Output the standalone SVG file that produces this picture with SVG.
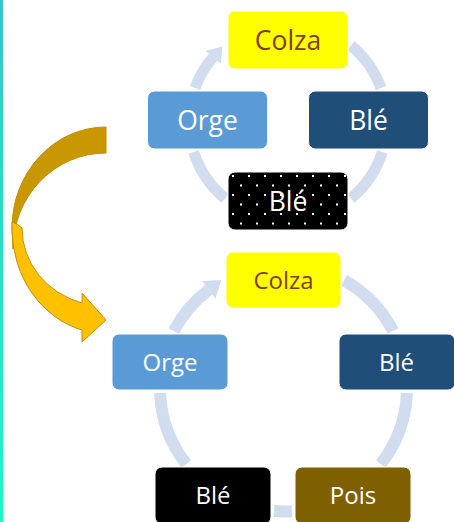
<svg xmlns="http://www.w3.org/2000/svg" width="454" height="522" viewBox="0 0 454 522">
  <defs>
    <linearGradient id="edge" x1="0" y1="0" x2="0" y2="1">
      <stop offset="0" stop-color="#33C6CC"/>
      <stop offset="1" stop-color="#1EF6C6"/>
    </linearGradient>
    <pattern id="dots" patternUnits="userSpaceOnUse" x="228" y="172" width="16" height="19">
      <rect width="16" height="19" fill="#000"/>
      <rect x="4" y="3" width="2" height="2" fill="#fff"/>
      <rect x="12" y="12.5" width="2" height="2" fill="#fff"/>
    </pattern>
    <style>
      .arc { fill: none; stroke: #D1DCEF; }
      .t1 { stroke-width: 11; }
      .t2 { stroke-width: 12; }
      .head { fill: #D1DCEF; }
      .box { stroke: #fff; stroke-width: 1; }
      .lbl { font-family: "Open Sans", "Noto Sans", sans-serif; text-anchor: middle; fill: #fff; }
      .big { font-size: 26.5px; }
      .small { font-size: 24px; }
      .brown { fill: #843C0C; }
    </style>
  </defs>
  <rect x="0" y="0" width="454" height="522" fill="#fff"/>
  <rect x="0" y="0" width="3" height="522" fill="url(#edge)"/>

  <g id="curved-arrow" stroke="#BF9000" stroke-width="1">
    <path d="M106,127 A94,101 0 0 0 12,228 L13,249 A93,96 0 0 1 106,153 Z" fill="#C99700"/>
    <path d="M12,230 A94,105.5 0 0 0 82,330 L82,342 L106,320 L82,293 L82,303 A84,78 0 0 1 22,228 Q18,224 12,222 Z" fill="#FFC000"/>
  </g>

  <g id="connectors">
    <path class="arc t1" d="M351,45.6 A99,99 0 0 1 381,88"/>
    <path class="arc t1" d="M382.3,152 A99,99 0 0 1 351,198.4"/>
    <path class="arc t1" d="M225,198.4 A99,99 0 0 1 193.7,152"/>
    <path class="arc t1" d="M195,88 A99,99 0 0 1 213.2,57.2"/>
    <polygon class="head" points="222.4,46.6 205.6,50.7 220.8,63.7"/>

    <path class="arc t2" d="M344,280.3 A123.5,123.5 0 0 1 393.1,331"/>
    <path class="arc t2" d="M406.9,393 A123.5,123.5 0 0 1 380.8,464"/>
    <path class="arc t2" d="M292,511.2 A123.5,123.5 0 0 1 274,511.1"/>
    <path class="arc t2" d="M186.2,464 A123.5,123.5 0 0 1 160.1,393"/>
    <path class="arc t2" d="M173.9,331 A123.5,123.5 0 0 1 208.7,289.8"/>
    <polygon class="head" points="221.4,280.1 202,281 215.4,298.6"/>
  </g>

  <g id="top-colza">
    <rect class="box" x="228" y="11" width="120" height="58" rx="7" fill="#FFFF00"/>
    <text class="lbl big brown" x="288" y="49.5">Colza</text>
  </g>
  <g id="top-orge">
    <rect class="box" x="147.5" y="91" width="120" height="58" rx="7" fill="#5B9BD5"/>
    <text class="lbl big" x="207.5" y="129.5">Orge</text>
  </g>
  <g id="top-ble-right">
    <rect class="box" x="308.5" y="91" width="120" height="58" rx="7" fill="#1F4E79"/>
    <text class="lbl big" x="368.5" y="129.5">Blé</text>
  </g>
  <g id="top-ble-dotted">
    <rect class="box" x="228" y="172" width="120" height="58" rx="7" fill="url(#dots)"/>
    <text class="lbl big" x="288" y="210.5">Blé</text>
  </g>

  <g id="bottom-colza">
    <rect class="box" x="226" y="252" width="115" height="56" rx="7" fill="#FFFF00"/>
    <text class="lbl small brown" x="283.5" y="289">Colza</text>
  </g>
  <g id="bottom-orge">
    <rect class="box" x="112" y="334" width="116" height="56" rx="7" fill="#5B9BD5"/>
    <text class="lbl small" x="170" y="371">Orge</text>
  </g>
  <g id="bottom-ble-right">
    <rect class="box" x="339" y="334" width="116" height="56" rx="7" fill="#1F4E79"/>
    <text class="lbl small" x="396.5" y="371">Blé</text>
  </g>
  <g id="bottom-ble-black">
    <rect class="box" x="155" y="467" width="116" height="57" rx="7" fill="#000000"/>
    <text class="lbl small" x="213" y="504">Blé</text>
  </g>
  <g id="bottom-pois">
    <rect class="box" x="295" y="467" width="116" height="57" rx="7" fill="#7F6000"/>
    <text class="lbl small" x="353" y="504">Pois</text>
  </g>
</svg>
